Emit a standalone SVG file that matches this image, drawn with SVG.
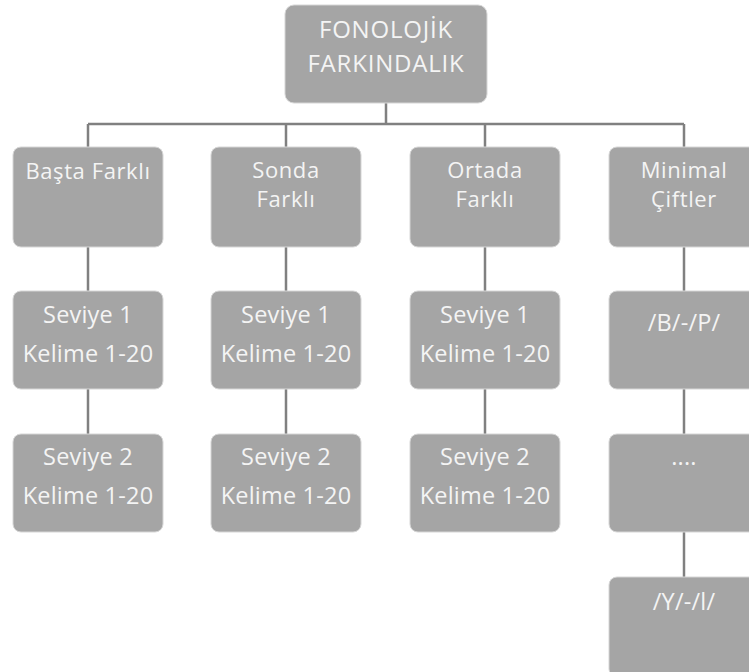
<svg xmlns="http://www.w3.org/2000/svg" width="749" height="672" viewBox="0 0 749 672">
<style>
.box{fill:#a5a5a5;stroke:#d6d6d6;stroke-width:1}
.t{font-family:"Open Sans","DejaVu Sans",sans-serif;fill:#f4f4f4;text-anchor:middle}
.s0{font-size:24px;letter-spacing:0.8px}
.s1{font-size:22px;letter-spacing:0.6px}
.s2{font-size:23.5px;letter-spacing:0.2px}
.c{stroke:#808080;stroke-width:2.5;fill:none}
</style>
<rect width="749" height="672" fill="#ffffff"/>
<g id="connectors">
<path class="c" d="M386 103V124M88 124H684M88 124V147M286 124V147M485 124V147M684 124V147"/>
<path class="c" d="M88 247V291M286 247V291M485 247V291M684 247V291"/>
<path class="c" d="M88 389V434M286 389V434M485 389V434M684 389V434"/>
<path class="c" d="M684 532V577"/>
</g>
<g id="n-root"><rect class="box" x="285" y="5" width="202" height="98" rx="9"/>
<text class="t s0" x="386" y="38">FONOLOJİK</text><text class="t s0" x="386" y="72">FARKINDALIK</text></g>
<g id="n-basta"><rect class="box" x="13" y="147" width="150" height="100" rx="8"/>
<text class="t s1" x="88" y="179">Başta Farklı</text></g>
<g id="n-sonda"><rect class="box" x="211" y="147" width="150" height="100" rx="8"/>
<text class="t s1" x="286" y="178">Sonda</text><text class="t s1" x="286" y="207">Farklı</text></g>
<g id="n-ortada"><rect class="box" x="410" y="147" width="150" height="100" rx="8"/>
<text class="t s1" x="485" y="178">Ortada</text><text class="t s1" x="485" y="207">Farklı</text></g>
<g id="n-minimal"><rect class="box" x="609" y="147" width="150" height="100" rx="8"/>
<text class="t s1" x="684" y="178">Minimal</text><text class="t s1" x="684" y="207">Çiftler</text></g>
<g id="n-b1"><rect class="box" x="13" y="291" width="150" height="98" rx="8"/>
<text class="t s2" x="88" y="323">Seviye 1</text><text class="t s2" x="88" y="362">Kelime 1-20</text></g>
<g id="n-s1"><rect class="box" x="211" y="291" width="150" height="98" rx="8"/>
<text class="t s2" x="286" y="323">Seviye 1</text><text class="t s2" x="286" y="362">Kelime 1-20</text></g>
<g id="n-o1"><rect class="box" x="410" y="291" width="150" height="98" rx="8"/>
<text class="t s2" x="485" y="323">Seviye 1</text><text class="t s2" x="485" y="362">Kelime 1-20</text></g>
<g id="n-bp"><rect class="box" x="609" y="291" width="150" height="98" rx="8"/>
<text class="t s2" x="684" y="331">/B/-/P/</text></g>
<g id="n-b2"><rect class="box" x="13" y="434" width="150" height="98" rx="8"/>
<text class="t s2" x="88" y="465">Seviye 2</text><text class="t s2" x="88" y="504">Kelime 1-20</text></g>
<g id="n-s2"><rect class="box" x="211" y="434" width="150" height="98" rx="8"/>
<text class="t s2" x="286" y="465">Seviye 2</text><text class="t s2" x="286" y="504">Kelime 1-20</text></g>
<g id="n-o2"><rect class="box" x="410" y="434" width="150" height="98" rx="8"/>
<text class="t s2" x="485" y="465">Seviye 2</text><text class="t s2" x="485" y="504">Kelime 1-20</text></g>
<g id="n-dots"><rect class="box" x="609" y="434" width="150" height="98" rx="8"/>
<text class="t s2" x="684" y="465">....</text></g>
<g id="n-yl"><rect class="box" x="609" y="577" width="150" height="100" rx="8"/>
<text class="t s2" x="684" y="610">/Y/-/l/</text></g>
</svg>
